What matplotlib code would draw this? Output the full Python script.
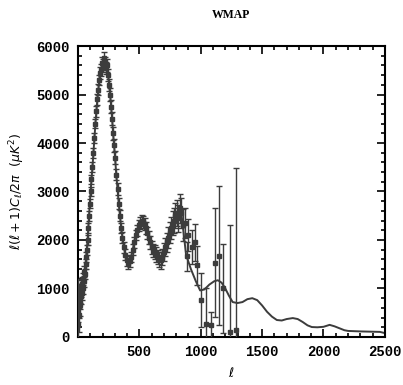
import matplotlib
matplotlib.use("Agg")
import matplotlib.pyplot as plt
from matplotlib.ticker import MultipleLocator
import numpy as np

# binned band powers: multipole, l(l+1)Cl/2pi [uK^2], 1-sigma error
ell = [2, 4, 6, 8, 10, 13, 16, 19, 22, 25, 28, 31, 35, 39, 43, 47, 52, 57, 62, 67,
       72, 78, 84, 90, 96, 103, 110, 118, 126, 134, 142, 150, 158, 166, 174, 182,
       190, 198, 206, 214, 222, 230, 238, 246, 254, 262, 270, 278, 286, 294, 302,
       312, 322, 332, 342, 352, 362, 374, 386, 398, 410, 422, 434, 446, 458, 470,
       482, 494, 506, 518, 530, 542, 554, 566, 578, 590, 602, 614, 626, 638, 650,
       662, 674, 686, 698, 710, 722, 734, 746, 758, 770, 782, 794, 806, 818, 830,
       842, 854, 870, 885, 896, 925, 950, 970, 1005, 1045, 1080, 1115, 1150, 1185,
       1235, 1290]
cl = [250, 750, 450, 700, 850, 650, 900, 750, 1000, 850, 1050, 900, 1100, 1000,
      1200, 1150, 1350, 1300, 1500, 1650, 1800, 2000, 2250, 2500, 2750, 3000, 3250,
      3500, 3800, 4100, 4400, 4650, 4900, 5100, 5300, 5450, 5500, 5650, 5600, 5750,
      5650, 5550, 5600, 5400, 5200, 5000, 4750, 4500, 4200, 3950, 3700, 3350, 3050,
      2750, 2500, 2250, 2050, 1850, 1700, 1580, 1520, 1560, 1650, 1800, 1950, 2100,
      2200, 2300, 2350, 2400, 2370, 2330, 2250, 2150, 2050, 1950, 1850, 1780, 1750,
      1700, 1650, 1600, 1580, 1650, 1750, 1850, 1950, 2050, 2150, 2250, 2350, 2400,
      2500, 2550, 2450, 2650, 2550, 2300, 2350, 1660, 2100, 1850, 1950, 1480, 760,
      270, 250, 1530, 1680, 1000, 100, 140]
err = [600, 450, 350, 300, 250, 220, 200, 180, 170, 160, 150, 140, 130, 120, 120,
       110, 110, 100, 100, 100, 100, 100, 100, 100, 100, 100, 100, 100, 100, 100,
       100, 110, 110, 110, 110, 120, 120, 120, 130, 130, 130, 130, 130, 130, 130,
       130, 130, 130, 130, 130, 130, 120, 120, 120, 110, 110, 110, 110, 110, 110,
       110, 110, 110, 110, 110, 110, 110, 110, 120, 120, 120, 120, 120, 120, 130,
       130, 130, 140, 140, 150, 150, 160, 170, 170, 180, 190, 200, 210, 220, 230,
       240, 250, 260, 270, 280, 300, 310, 330, 300, 300, 330, 350, 380, 400, 560,
       730, 270, 1120, 1440, 920, 2200, 3350]

# smooth continuation of the spectrum past the third peak
tail_ell = [880, 920, 960, 995, 1030, 1070, 1110, 1140, 1170, 1200, 1230, 1260,
            1300, 1340, 1380, 1420, 1460, 1500, 1540, 1580, 1620, 1660, 1700, 1750,
            1790, 1830, 1870, 1905, 1950, 2000, 2050, 2090, 2130, 2170, 2200, 2300,
            2400, 2460, 2500]
tail_cl = [1700, 1400, 1150, 960, 980, 1080, 1150, 1170, 1120, 1000, 850, 720,
           700, 720, 780, 800, 760, 650, 520, 420, 350, 340, 370, 390, 370, 310,
           240, 205, 200, 210, 250, 220, 180, 140, 125, 115, 110, 105, 80]

ell = np.array(ell)
cl = np.array(cl)
err = np.array(err)
keep = ell < 870
line_x = np.concatenate([ell[keep], tail_ell])
line_y = np.concatenate([cl[keep], tail_cl])

ink = "#3c3c3c"
fig = plt.figure(figsize=(4.03, 3.85), dpi=100)
ax = fig.add_axes([0.1935, 0.1247, 0.7615, 0.7558])

ax.plot(line_x, line_y, color=ink, lw=1.4, zorder=2)
ax.errorbar(ell, cl, yerr=err, fmt="s", ms=2.8, color=ink, ecolor=ink,
            elinewidth=1.0, capsize=2, capthick=1.0, zorder=3)

ax.set_xlim(0, 2500)
ax.set_ylim(0, 6000)
ax.xaxis.set_major_locator(MultipleLocator(500))
ax.xaxis.set_minor_locator(MultipleLocator(100))
ax.yaxis.set_major_locator(MultipleLocator(1000))
ax.yaxis.set_minor_locator(MultipleLocator(200))
ax.set_xticks([500, 1000, 1500, 2000, 2500])
ax.tick_params(which="both", direction="in", top=True, right=True, width=1.2)
ax.tick_params(which="major", length=6, pad=6)
ax.tick_params(which="minor", length=3)
for lab in ax.get_xticklabels() + ax.get_yticklabels():
    lab.set_fontfamily("Liberation Mono")
    lab.set_fontweight("bold")
    lab.set_fontsize(10)
for sp in ax.spines.values():
    sp.set_linewidth(1.5)

ax.set_title("WMAP", fontfamily="Liberation Serif", fontweight="bold",
             fontsize=8.5, pad=20)
ax.set_xlabel(r"$\ell$", fontsize=9, labelpad=5)
ax.set_ylabel(r"$\ell(\ell+1)C_\ell/2\pi\ \ (\mu K^2)$", fontsize=9)
ax.yaxis.set_label_coords(-0.165, 0.5)

fig.savefig("out.png", dpi=100)
